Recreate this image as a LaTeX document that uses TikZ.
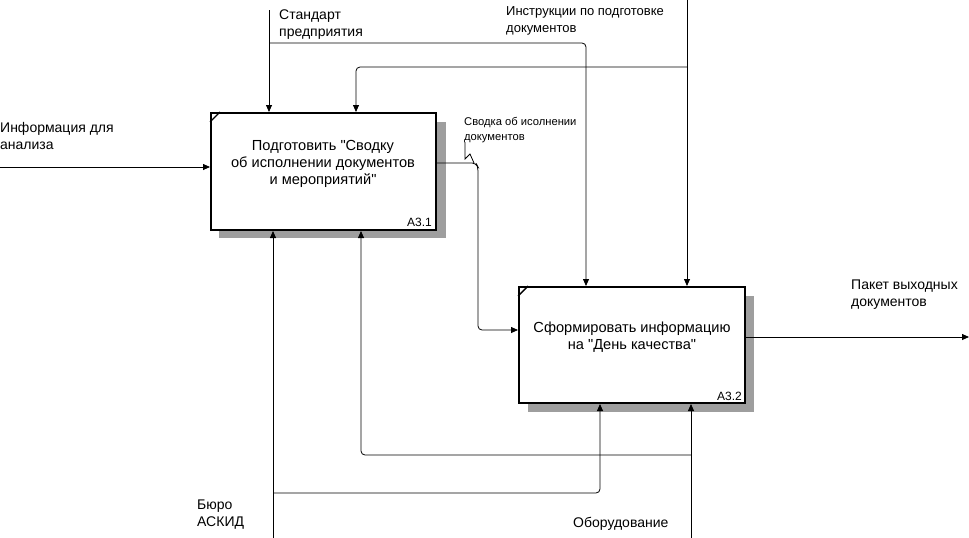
\documentclass[tikz,border=0pt]{standalone}
\usepackage{fontspec}
\setmainfont{Liberation Sans}
\usetikzlibrary{arrows.meta}
\begin{document}
\begin{tikzpicture}[x=1pt,y=-1pt,
  box/.style={draw=black,line width=2pt,fill=white,minimum width=#1,inner sep=0pt},
  shade/.style={fill=black!38,draw=none},
  arr/.style={line width=0.8pt,-{Triangle[length=7pt,width=6pt]},rounded corners=4pt},
  ln/.style={line width=0.8pt,rounded corners=4pt},
  txt/.style={font=\fontsize{14}{17}\selectfont,inner sep=0pt,align=left},
  btxt/.style={font=\fontsize{14.6}{17}\selectfont,inner sep=0pt,align=center},
  small/.style={font=\fontsize{11.2}{15}\selectfont,inner sep=0pt,align=left},
  idn/.style={font=\fontsize{12}{13}\selectfont,inner sep=0pt,anchor=base east}]
\useasboundingbox (0,0) rectangle (969,538);
% shadows
\fill[shade] (436,122) rectangle (446,238);
\fill[shade] (219,230) rectangle (446,238);
\fill[shade] (745,296) rectangle (754,412);
\fill[shade] (528,403) rectangle (754,412);
% boxes
\node[box=225pt,minimum height=117pt] (b1) at (323.5,171.5) {};
\node[box=226pt,minimum height=116pt] (b2) at (632,345) {};
\draw[line width=1.4pt] ([yshift=-10pt]b1.north west) -- ([xshift=10pt]b1.north west);
\draw[line width=1.4pt] ([yshift=-10pt]b2.north west) -- ([xshift=10pt]b2.north west);
\node[btxt] (t1) at (323,164) {Подготовить \textquotedbl Сводку\\об исполнении документов\\и мероприятий\textquotedbl};
\node[btxt] (t2) at (632,337) {Сформировать информацию\\на \textquotedbl День качества\textquotedbl};
\node[idn] (id1) at (432,226) {А3.1};
\node[idn] (id2) at (742,400) {А3.2};
% coordinates
\coordinate (in1) at (0,167);
\coordinate (c1) at (269,10);
\coordinate (c2) at (687,0);
\coordinate (m1) at (273,538);
\coordinate (m2) at (691,538);
\coordinate (out2) at (969,337);
% input
\draw[arr] (in1) -- (in1 -| b1.west);
% controls
\draw[arr] (c1) -- (c1 |- b1.north);
\draw[arr] (269,43) -- (586,43) -- (586,0 |- b2.north);
\draw[arr] (c2) -- (c2 |- b2.north);
\draw[arr] (687,67) -- (356,67) -- (356,0 |- b1.north);
% mechanisms
\draw[arr] (m1) -- (m1 |- b1.south);
\draw[arr] (273,493) -- (600,493) -- (600,0 |- b2.south);
\draw[arr] (m2) -- (m2 |- b2.south);
\draw[arr] (691,455) -- (361,455) -- (361,0 |- b1.south);
% output 1 -> input 2
\draw[arr] (b1.east |- 0,163) -- (476,163) -- (478,167) -- (478,330) -- (330,330 -| b2.west);
% output 2
\draw[arr] (b2.east |- out2) -- (out2);
% squiggle
\draw[line width=0.8pt] (465,142) -- (465,159) -- (470,154) -- (474,163);
% labels
\node[txt,anchor=north west] (l1) at (0,122) {Информация для\\анализа};
\node[txt,anchor=north west] (l2) at (279,10) {Стандарт\\предприятия};
\node[txt,anchor=north west,font=\fontsize{13}{17}\selectfont] (l3) at (506,6) {Инструкции по подготовке\\документов};
\node[txt,anchor=north west] (l4) at (851,280) {Пакет выходных\\документов};
\node[txt,anchor=north west] (l5) at (197,500) {Бюро\\АСКИД};
\node[txt,anchor=north west] (l6) at (573,517) {Оборудование};
\node[small,anchor=north west] (l7) at (464,117) {Сводка об исолнении\\документов};
\end{tikzpicture}
\end{document}
